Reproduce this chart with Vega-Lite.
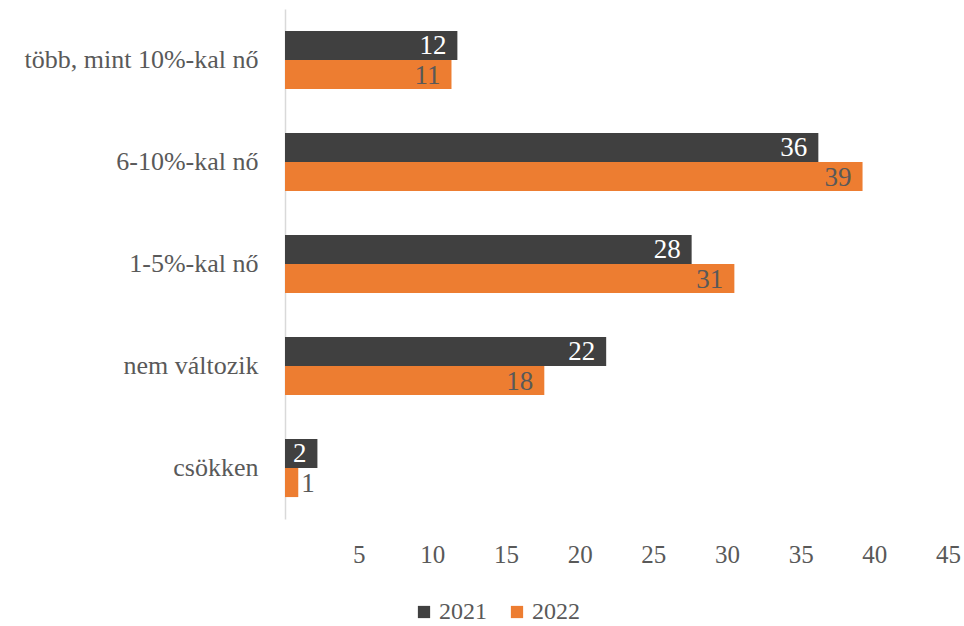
{
  "$schema": "https://vega.github.io/schema/vega-lite/v6.json",
  "autosize": {"type": "none"},
  "padding": {"left": 285, "top": 9, "right": 16, "bottom": 107},
  "width": 663,
  "height": 510,
  "background": "white",
  "config": {
    "view": {"stroke": null},
    "font": "'Liberation Serif', 'Times New Roman', serif"
  },
  "data": {
    "values": [
      {"cat": "több, mint 10%-kal nő", "year": "2021", "value": 11.7},
      {"cat": "több, mint 10%-kal nő", "year": "2022", "value": 11.3},
      {"cat": "6-10%-kal nő", "year": "2021", "value": 36.2},
      {"cat": "6-10%-kal nő", "year": "2022", "value": 39.2},
      {"cat": "1-5%-kal nő", "year": "2021", "value": 27.6},
      {"cat": "1-5%-kal nő", "year": "2022", "value": 30.5},
      {"cat": "nem változik", "year": "2021", "value": 21.8},
      {"cat": "nem változik", "year": "2022", "value": 17.6},
      {"cat": "csökken", "year": "2021", "value": 2.2},
      {"cat": "csökken", "year": "2022", "value": 0.9}
    ]
  },
  "encoding": {
    "y": {
      "field": "cat",
      "type": "nominal",
      "sort": null,
      "scale": {"paddingInner": 0.43, "paddingOuter": 0.215},
      "axis": {
        "title": null,
        "ticks": false,
        "domainColor": "#d9d9d9",
        "domainWidth": 1.5,
        "labelFontSize": 26,
        "labelColor": "#595959",
        "labelPadding": 27,
        "labelLimit": 400,
        "labelFont": "'Liberation Serif', 'Times New Roman', serif"
      }
    },
    "yOffset": {"field": "year", "type": "nominal", "sort": ["2021", "2022"]},
    "x": {
      "field": "value",
      "type": "quantitative",
      "scale": {"domain": [0, 45], "nice": false},
      "axis": {
        "title": null,
        "values": [5, 10, 15, 20, 25, 30, 35, 40, 45],
        "domain": false,
        "ticks": false,
        "grid": false,
        "labelFlush": false,
        "labelBound": false,
        "labelFontSize": 25,
        "labelColor": "#595959",
        "labelPadding": 23,
        "labelFont": "'Liberation Serif', 'Times New Roman', serif"
      }
    }
  },
  "layer": [
    {
      "mark": {"type": "bar"},
      "encoding": {
        "color": {
          "field": "year",
          "type": "nominal",
          "scale": {"domain": ["2021", "2022"], "range": ["#404040", "#ED7D31"]},
          "legend": {
            "title": null,
            "orient": "none",
            "direction": "horizontal",
            "legendX": 127,
            "legendY": 591,
            "symbolType": "square",
            "symbolSize": 150,
            "symbolStrokeWidth": 0,
            "labelFontSize": 24,
            "labelColor": "#595959",
            "labelFont": "'Liberation Serif', 'Times New Roman', serif",
            "labelOffset": 3,
            "columnPadding": 18
          }
        }
      }
    },
    {
      "transform": [{"filter": "datum.value >= 2"}],
      "mark": {"type": "text", "align": "right", "baseline": "middle", "dx": -11, "dy": 1, "fontSize": 27, "font": "'Liberation Serif', 'Times New Roman', serif"},
      "encoding": {
        "text": {"field": "value", "type": "quantitative", "format": ".0f"},
        "color": {
          "field": "year",
          "type": "nominal",
          "scale": {"domain": ["2021", "2022"], "range": ["#ffffff", "#595959"]},
          "legend": null
        }
      }
    },
    {
      "transform": [{"filter": "datum.value < 2"}],
      "mark": {"type": "text", "align": "left", "baseline": "middle", "dx": 3, "dy": 1, "fontSize": 27, "color": "#595959", "font": "'Liberation Serif', 'Times New Roman', serif"},
      "encoding": {
        "text": {"field": "value", "type": "quantitative", "format": ".0f"}
      }
    }
  ],
  "resolve": {"scale": {"color": "independent"}}
}
